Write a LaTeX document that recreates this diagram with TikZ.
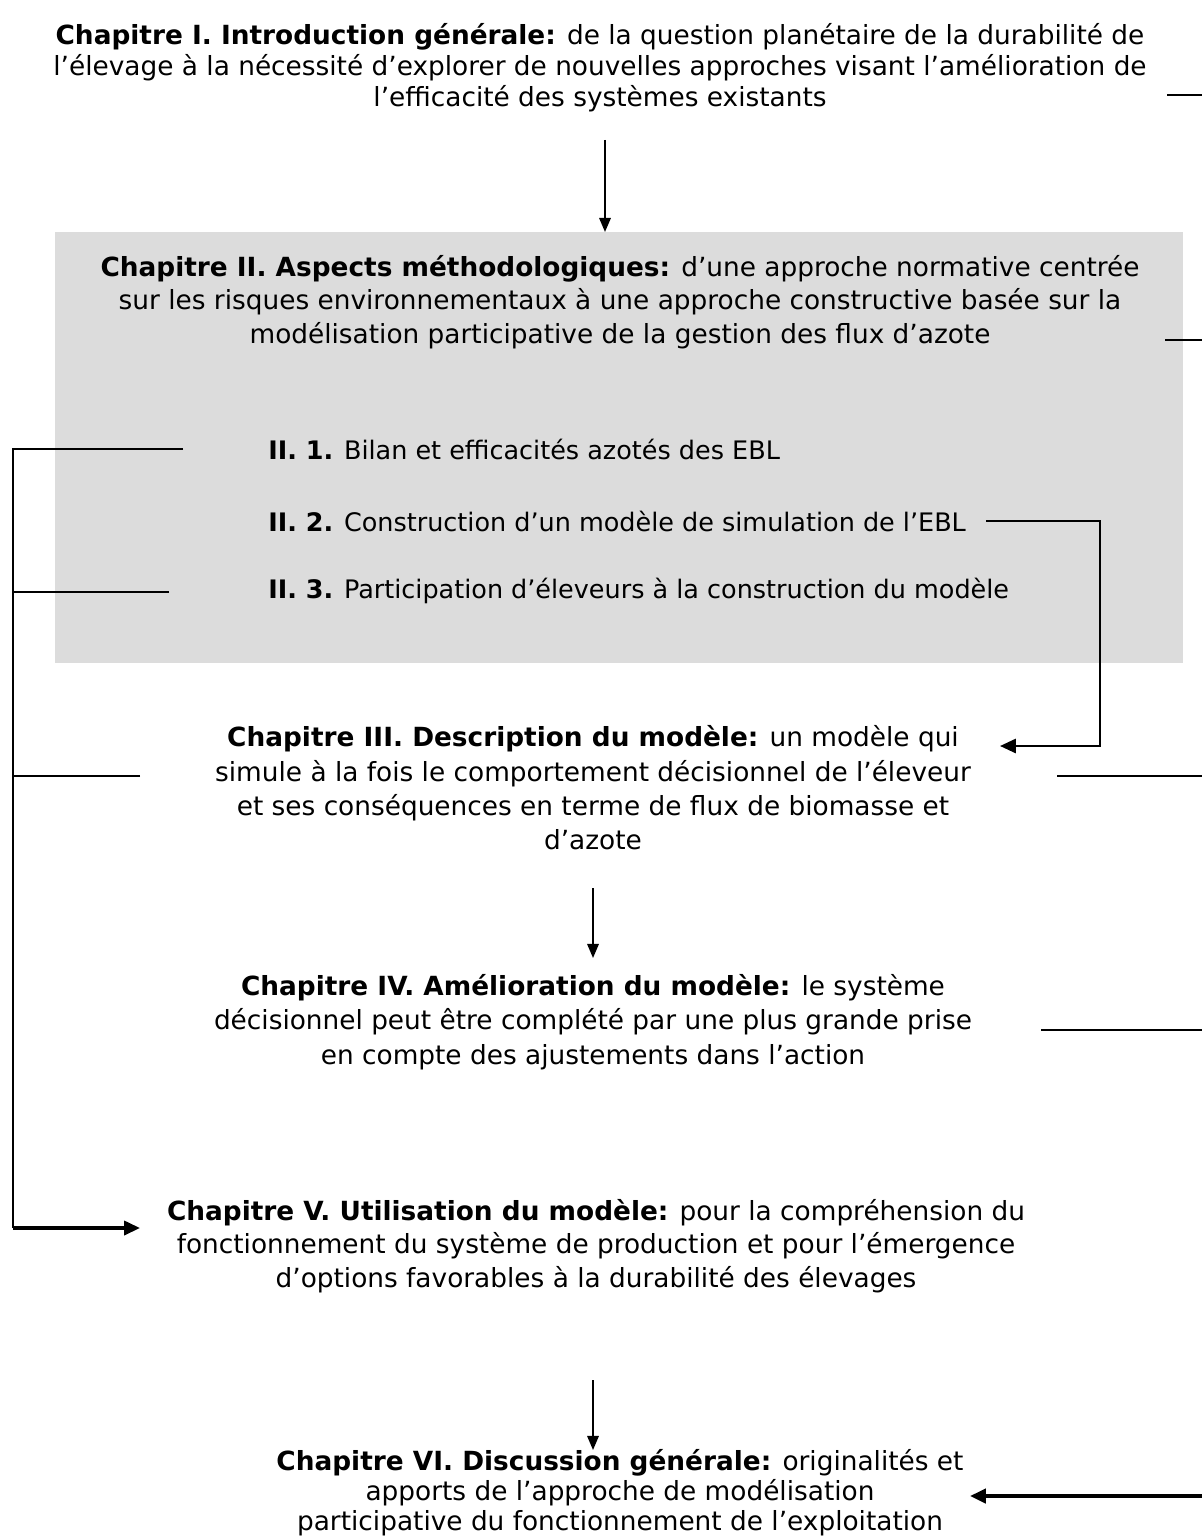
\documentclass[tikz,border=0pt]{standalone}
\usepackage{fontspec}
\setmainfont{DejaVu Sans}
\usetikzlibrary{arrows.meta}
\definecolor{boxgray}{RGB}{220,220,220}
\newcommand{\chapfont}[1]{\fontsize{15}{#1}\selectfont}
\begin{document}
\begin{tikzpicture}[x=0.02cm,y=-0.02cm,
  chap/.style={align=center, inner sep=0pt, font=\chapfont{17.6}},
  part/.style={anchor=west, inner sep=0pt, font=\fontsize{14.5}{17}\selectfont},
  link/.style={line width=1.1pt},
  flow/.style={line width=1.1pt, -{Triangle[length=8pt,width=6.5pt]}},
  bigflow/.style={line width=1.8pt, -{Triangle[length=9pt,width=8pt]}}]
\useasboundingbox (0,0) rectangle (1202,1540);
\fill[boxgray] (55,232) rectangle (1183,663);
% chapters
\node[chap] (ch1) at (600,68) {\textbf{Chapitre I. Introduction générale:} de la question planétaire de la durabilité de\\l’élevage à la nécessité d’explorer de nouvelles approches visant l’amélioration de\\l’efficacité des systèmes existants};
\node[chap, font=\chapfont{19.2}] (ch2) at (620,302) {\textbf{Chapitre II. Aspects méthodologiques:} d’une approche normative centrée\\sur les risques environnementaux à une approche constructive basée sur la\\modélisation participative de la gestion des flux d’azote};
\node[part] (p1) at (268,449) {\textbf{II. 1.} Bilan et efficacités azotés des EBL};
\node[part] (p2) at (268,521) {\textbf{II. 2.} Construction d’un modèle de simulation de l’EBL};
\node[part] (p3) at (268,591) {\textbf{II. 3.} Participation d’éleveurs à la construction du modèle};
\node[chap, font=\chapfont{19.5}] (ch3) at (593,788) {\textbf{Chapitre III. Description du modèle:} un modèle qui\\simule à la fois le comportement décisionnel de l’éleveur\\et ses conséquences en terme de flux de biomasse et\\d’azote};
\node[chap, font=\chapfont{19.7}] (ch4) at (593,1022) {\textbf{Chapitre IV. Amélioration du modèle:} le système\\décisionnel peut être complété par une plus grande prise\\en compte des ajustements dans l’action};
\node[chap, font=\chapfont{19}] (ch5) at (596,1246) {\textbf{Chapitre V. Utilisation du modèle:} pour la compréhension du\\fonctionnement du système de production et pour l’émergence\\d’options favorables à la durabilité des élevages};
\node[chap, font=\chapfont{17}] (ch6) at (620,1493) {\textbf{Chapitre VI. Discussion générale:} originalités et\\apports de l’approche de modélisation\\participative du fonctionnement de l’exploitation};
% main flow
\coordinate (a1) at (605,140);
\coordinate (a1e) at (605,232);
\coordinate (a3) at (593,888);
\coordinate (a3e) at (593,958);
\coordinate (a5) at (593,1380);
\coordinate (a5e) at (593,1450);
\draw[flow] (a1) -- (a1e);
\draw[flow] (a3) -- (a3e);
\draw[flow] (a5) -- (a5e);
% left bracket
\coordinate (s1) at (183,449);
\coordinate (s2) at (169,592);
\coordinate (s3) at (140,776);
\coordinate (s4) at (13,1228);
\coordinate (t5) at (140,1228);
\draw[link] (s1) -| (s4);
\draw[link] (s2) -- (s2 -| s4);
\draw[link] (s3) -- (s3 -| s4);
\draw[bigflow] (s4) -- (t5);
% II.2 to chapter III
\coordinate (c1) at (986,521);
\coordinate (c2) at (1100,746);
\coordinate (t3) at (1000,746);
\draw[bigflow, line width=1.4pt] (c1) -| (c2) -- (t3);
% right stubs
\coordinate (r1) at (1167,95);
\coordinate (r2) at (1165,340);
\coordinate (r3) at (1057,776);
\coordinate (r4) at (1041,1030);
\coordinate (r6) at (1202,1496);
\coordinate (t6) at (970,1496);
\draw[link] (r1) -- (r1 -| r6);
\draw[link] (r2) -- (r2 -| r6);
\draw[link] (r3) -- (r3 -| r6);
\draw[link] (r4) -- (r4 -| r6);
\draw[bigflow, line width=2.2pt] (r6) -- (t6);
\end{tikzpicture}
\end{document}
